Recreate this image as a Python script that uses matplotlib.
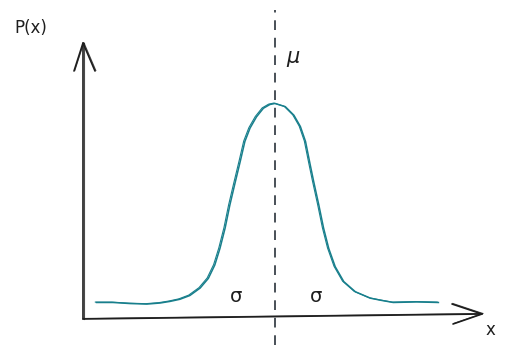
import matplotlib
matplotlib.use("Agg")
import matplotlib.pyplot as plt
import matplotlib.transforms as mtransforms

# curve (x in sigma units around mu, P scaled so the peak is 0.4)
x_vals = [-4.15, -3.77, -3.37, -2.98, -2.67, -2.44, -2.21, -1.98, -1.74, -1.55,
          -1.40, -1.28, -1.16, -1.05, -0.93, -0.81, -0.70, -0.58, -0.43, -0.27,
          -0.12, 0.0, 0.24, 0.44, 0.59, 0.71, 0.82, 0.90, 1.02, 1.13,
          1.25, 1.40, 1.60, 1.87, 2.22, 2.47, 2.75, 3.30, 3.80]
p_vals = [0.029, 0.029, 0.027, 0.026, 0.028, 0.031, 0.035, 0.042, 0.056, 0.074,
          0.099, 0.130, 0.168, 0.211, 0.252, 0.292, 0.330, 0.355, 0.376, 0.392,
          0.399, 0.401, 0.395, 0.379, 0.358, 0.330, 0.286, 0.255, 0.211, 0.168,
          0.130, 0.096, 0.068, 0.049, 0.037, 0.033, 0.029, 0.030, 0.029]
mu = 0.0
sigma_marks = [-0.9, 0.95]

W, H = 505, 353
# pixel position of the origin of the sketch and scale (px per unit)
X0_PX, Y0_PX = 275, 318
SX, SY = 43.0, 535.0

fig = plt.figure(figsize=(W / 100, H / 100), dpi=100)
ax = fig.add_axes([0, 0, 1, 1])
ax.set_xlim(-X0_PX / SX, (W - X0_PX) / SX)
ax.set_ylim((Y0_PX - H) / SY, Y0_PX / SY)
ax.axis("off")


def px(x, y):
    # pixel coords (top-left origin) -> data coords
    return (x - X0_PX) / SX, (Y0_PX - y) / SY


def sketch_line(pts, color="#1e1e1e", lw=1.2):
    xs, ys = zip(*[px(a, b) for a, b in pts])
    ax.plot(xs, ys, color=color, lw=lw, solid_capstyle="round")
    off = mtransforms.offset_copy(ax.transData, fig, x=0.8, y=0.5, units="dots")
    ax.plot(xs, ys, color=color, lw=0.8, alpha=0.8, transform=off)


teal = "#187f8c"
ax.plot(x_vals, p_vals, color=teal, lw=1.1, solid_joinstyle="round")
off = mtransforms.offset_copy(ax.transData, fig, x=-1.2, y=0.4, units="dots")
ax.plot(x_vals, p_vals, color=teal, lw=0.8, transform=off, solid_joinstyle="round")

# axes arrows
sketch_line([(83, 319), (83, 43)])
sketch_line([(74, 71), (83, 43), (95, 71)])
sketch_line([(83, 319), (482, 314)])
sketch_line([(452, 304), (482, 314), (453, 324)])

# mean line
yb = px(0, 345)[1]
yt = px(0, 10)[1]
ax.plot([mu, mu], [yb, yt], color="#495057", lw=1.4, dashes=(5, 4))

fs = dict(color="#1e1e1e", family="DejaVu Sans")
ax.text(*px(31, 28), "P(x)", fontsize=12, ha="center", va="center", **fs)
ax.text(*px(293, 57), "μ", fontsize=15, ha="center", va="center", style="italic", **fs)
for s in sigma_marks:
    ax.text(s, px(0, 297)[1], "σ", fontsize=14, ha="center", va="center", **fs)
ax.text(*px(490, 330), "x", fontsize=12, ha="center", va="center", **fs)

fig.savefig("out.png", dpi=100)
